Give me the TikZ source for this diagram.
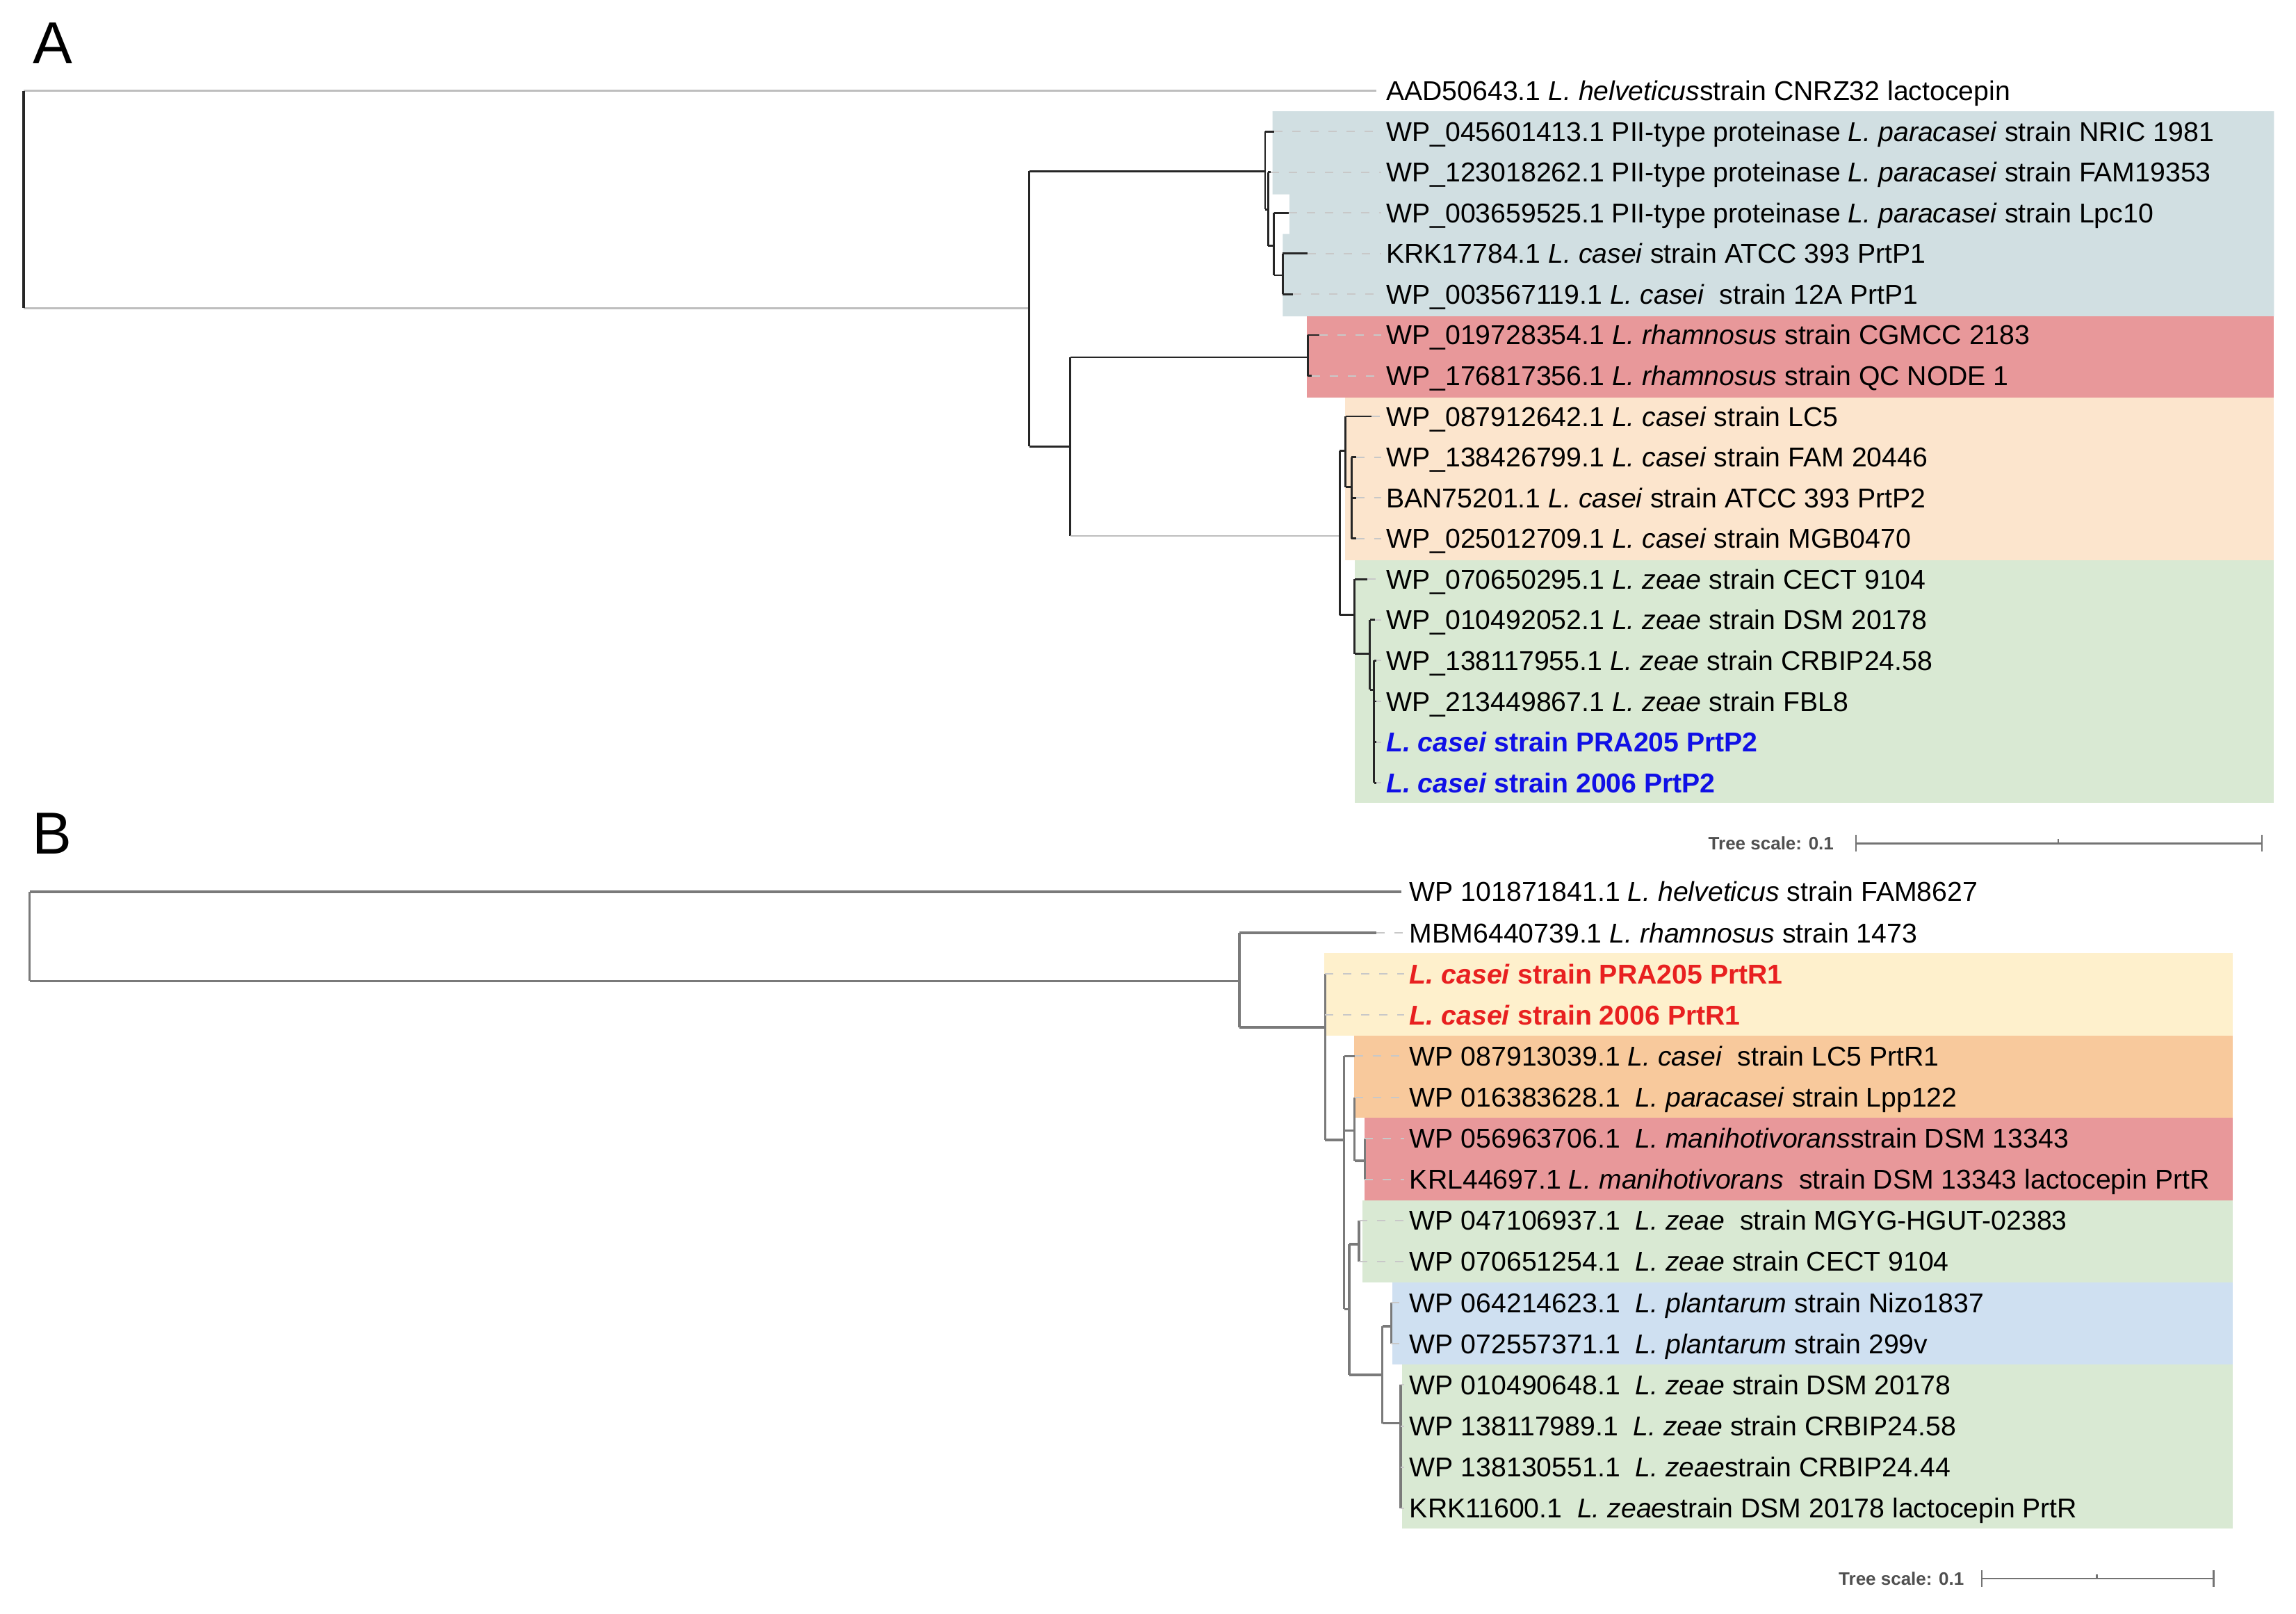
\documentclass[tikz,border=0pt]{standalone}
\usepackage{fontspec}
\setmainfont{Liberation Sans}
\usepackage{tikz}

\definecolor{cladeblue}{RGB}{209,223,226}
\definecolor{cladered}{RGB}{232,152,154}
\definecolor{cladepeach}{RGB}{252,229,205}
\definecolor{cladegreen}{RGB}{217,233,211}
\definecolor{cladeyellow}{RGB}{254,240,204}
\definecolor{cladeorange}{RGB}{248,201,156}
\definecolor{cladesky}{RGB}{207,224,241}
\definecolor{treegray}{RGB}{190,190,190}
\definecolor{bgray}{RGB}{122,122,122}
\definecolor{leadgray}{RGB}{200,200,200}
\definecolor{labblue}{RGB}{16,16,230}
\definecolor{labred}{RGB}{232,32,32}
\definecolor{scalegray}{RGB}{80,80,80}

\newcommand{\labfont}{\fontsize{9.8}{11}\selectfont}
\newcommand{\scalefont}{\fontsize{6.5}{7}\selectfont\bfseries}

\tikzset{every picture/.style={line width=0.75pt}}
\tikzset{
	brA/.style={draw=black!85, line width=0.7pt},
	brAl/.style={draw=treegray, line width=0.7pt},
	brB/.style={draw=bgray, line width=0.85pt},
	lead/.style={draw=leadgray, line width=0.5pt, dash pattern=on 3pt off 3.5pt, shorten >=1.5pt},
	lab/.style={anchor=west, inner sep=0pt, text height=7pt, text depth=0pt, font=\labfont},
	panel/.style={anchor=base west, inner sep=0pt, font=\fontsize{21.3}{24}\selectfont},
	scaletxt/.style={anchor=west, inner sep=0pt, text=scalegray, font=\scalefont},
	scalebar/.style={draw=scalegray!80, line width=0.6pt}
}

\begin{document}
\begin{tikzpicture}[x=0.5266pt,y=0.5266pt,yscale=-1,xscale=1]
	\useasboundingbox (0,0) rectangle (1568,1102);

	%Shape: Clade ranges A
	\fill[cladeblue] (869,76) -- (1553,76) -- (1553,216) -- (876,216) -- (876,159.8) -- (880.6,159.8) -- (880.6,132.7) -- (869,132.7) -- cycle;
	\fill[cladered] (892.6,216) rectangle (1553,271.6);
	\fill[cladepeach] (918.5,271.6) rectangle (1553,382.5);
	\fill[cladegreen] (925,382.5) rectangle (1553,548.5);

	%Shape: Clade ranges B
	\fill[cladeyellow] (904.3,651) rectangle (1525,707.5);
	\fill[cladeorange] (924.8,707.5) rectangle (1525,763.5);
	\fill[cladered] (932,763.5) rectangle (1525,819.6);
	\fill[cladegreen] (930.4,819.6) rectangle (1525,875.7);
	\fill[cladesky] (950.7,875.7) rectangle (1525,931.8);
	\fill[cladegreen] (957.3,931.8) rectangle (1525,1044);

	% Text Node
	\node[panel] (pA) at (22,43.5) {A};
	\node[panel] (pB) at (21.5,583) {B};

	%Tree A: internal nodes
	\coordinate (rootA) at (16,136);
	\coordinate (nA1) at (703,210.5);
	\coordinate (cA1) at (864,117);
	\coordinate (cA2) at (866,143);
	\coordinate (cA3) at (870,168);
	\coordinate (cA4) at (876,188);
	\coordinate (nA2) at (731,305);
	\coordinate (rA1) at (893,244);
	\coordinate (nA3) at (915,366);
	\coordinate (pA1) at (919,308);
	\coordinate (pA2) at (923,332.6);
	\coordinate (gA1) at (925,420);
	\coordinate (gA2) at (935.5,446.6);
	\coordinate (gA3) at (938.3,471);
	%Tree A: tips
	\coordinate (tA0) at (940,62);
	\coordinate (tA1) at (870,89.8);
	\coordinate (tA2) at (868,117.6);
	\coordinate (tA3) at (880,145.4);
	\coordinate (tA4) at (893,173.2);
	\coordinate (tA5) at (883,201);
	\coordinate (tA6) at (901,228.8);
	\coordinate (tA7) at (896,256.6);
	\coordinate (tA8) at (936.6,284.4);
	\coordinate (tA9) at (926,312.2);
	\coordinate (tA10) at (926,340);
	\coordinate (tA11) at (926,367.8);
	\coordinate (tA12) at (933.6,395.6);
	\coordinate (tA13) at (939,423.4);
	\coordinate (tA14) at (940,451.2);
	\coordinate (tA15) at (940,479);
	\coordinate (tA16) at (940,506.8);
	\coordinate (tA17) at (940,534.6);

	%Straight Lines: tree A
	\draw[brAl] (rootA |- tA0) -- (tA0);
	\draw[brAl] (rootA |- nA1) -- (nA1);
	\draw[brA, line width=1pt] (rootA |- tA0) -- (rootA |- nA1);
	\draw[brA] (nA1 |- cA1) -- (nA1 |- nA2);
	\draw[brA] (nA1 |- cA1) -- (cA1);
	\draw[brA] (nA1 |- nA2) -- (nA2);
	\draw[brA] (cA1 |- tA1) -- (cA1 |- cA2);
	\draw[brA] (cA1 |- tA1) -- (tA1);
	\draw[brA] (cA1 |- cA2) -- (cA2);
	\draw[brA] (cA2 |- tA2) -- (cA2 |- cA3);
	\draw[brA] (cA2 |- tA2) -- (tA2);
	\draw[brA] (cA2 |- cA3) -- (cA3);
	\draw[brA] (cA3 |- tA3) -- (cA3 |- cA4);
	\draw[brA] (cA3 |- tA3) -- (tA3);
	\draw[brA] (cA3 |- cA4) -- (cA4);
	\draw[brA] (cA4 |- tA4) -- (cA4 |- tA5);
	\draw[brA] (cA4 |- tA4) -- (tA4);
	\draw[brA] (cA4 |- tA5) -- (tA5);
	\draw[brA] (nA2 |- rA1) -- (nA2 |- nA3);
	\draw[brA] (nA2 |- rA1) -- (rA1);
	\draw[brAl] (nA2 |- nA3) -- (nA3);
	\draw[brA] (rA1 |- tA6) -- (rA1 |- tA7);
	\draw[brA] (rA1 |- tA6) -- (tA6);
	\draw[brA] (rA1 |- tA7) -- (tA7);
	\draw[brA] (nA3 |- pA1) -- (nA3 |- gA1);
	\draw[brA] (nA3 |- pA1) -- (pA1);
	\draw[brA] (nA3 |- gA1) -- (gA1);
	\draw[brA] (pA1 |- tA8) -- (pA1 |- pA2);
	\draw[brA] (pA1 |- tA8) -- (tA8);
	\draw[brA] (pA1 |- pA2) -- (pA2);
	\draw[brA] (pA2 |- tA9) -- (pA2 |- tA11);
	\draw[brA] (pA2 |- tA9) -- (tA9);
	\draw[brA] (pA2 |- tA10) -- (tA10);
	\draw[brA] (pA2 |- tA11) -- (tA11);
	\draw[brA] (gA1 |- tA12) -- (gA1 |- gA2);
	\draw[brA] (gA1 |- tA12) -- (tA12);
	\draw[brA] (gA1 |- gA2) -- (gA2);
	\draw[brA] (gA2 |- tA13) -- (gA2 |- gA3);
	\draw[brA] (gA2 |- tA13) -- (tA13);
	\draw[brA] (gA2 |- gA3) -- (gA3);
	\draw[brA] (gA3 |- tA14) -- (gA3 |- tA17);
	\draw[brA] (gA3 |- tA14) -- (tA14);
	\draw[brA] (gA3 |- tA15) -- (tA15);
	\draw[brA] (gA3 |- tA16) -- (tA16);
	\draw[brA] (gA3 |- tA17) -- (tA17);

	% Text Node: labels A
	\node[lab] (lA0) at (946,62) {AAD50643.1 \textit{L. helveticus}strain CNRZ32 lactocepin};
	\node[lab] (lA1) at (946,89.8) {WP\_045601413.1 PII-type proteinase \textit{L. paracasei} strain NRIC 1981};
	\node[lab] (lA2) at (946,117.6) {WP\_123018262.1 PII-type proteinase \textit{L. paracasei} strain FAM19353};
	\node[lab] (lA3) at (946,145.4) {WP\_003659525.1 PII-type proteinase \textit{L. paracasei} strain Lpc10};
	\node[lab] (lA4) at (946,173.2) {KRK17784.1 \textit{L. casei} strain ATCC 393 PrtP1};
	\node[lab] (lA5) at (946,201) {WP\_003567119.1 \textit{L. casei}\ \ strain 12A PrtP1};
	\node[lab] (lA6) at (946,228.8) {WP\_019728354.1 \textit{L. rhamnosus} strain CGMCC 2183};
	\node[lab] (lA7) at (946,256.6) {WP\_176817356.1 \textit{L. rhamnosus} strain QC NODE 1};
	\node[lab] (lA8) at (946,284.4) {WP\_087912642.1 \textit{L. casei} strain LC5};
	\node[lab] (lA9) at (946,312.2) {WP\_138426799.1 \textit{L. casei} strain FAM 20446};
	\node[lab] (lA10) at (946,340) {BAN75201.1 \textit{L. casei} strain ATCC 393 PrtP2};
	\node[lab] (lA11) at (946,367.8) {WP\_025012709.1 \textit{L. casei} strain MGB0470};
	\node[lab] (lA12) at (946,395.6) {WP\_070650295.1 \textit{L. zeae} strain CECT 9104};
	\node[lab] (lA13) at (946,423.4) {WP\_010492052.1 \textit{L. zeae} strain DSM 20178};
	\node[lab] (lA14) at (946,451.2) {WP\_138117955.1 \textit{L. zeae} strain CRBIP24.58};
	\node[lab] (lA15) at (946,479) {WP\_213449867.1 \textit{L. zeae} strain FBL8};
	\node[lab, text=labblue, font=\labfont\bfseries] (lA16) at (946,506.8) {\textit{L. casei} strain PRA205 PrtP2};
	\node[lab, text=labblue, font=\labfont\bfseries] (lA17) at (946,534.6) {\textit{L. casei} strain 2006 PrtP2};

	%Dashed Lines: leaders A
	\draw[lead] (tA1) -- (lA1);
	\draw[lead] (tA2) -- (lA2);
	\draw[lead] (tA3) -- (lA3);
	\draw[lead] (tA4) -- (lA4);
	\draw[lead] (tA5) -- (lA5);
	\draw[lead] (tA6) -- (lA6);
	\draw[lead] (tA7) -- (lA7);
	\draw[lead] (tA8) -- (lA8);
	\draw[lead] (tA9) -- (lA9);
	\draw[lead] (tA10) -- (lA10);
	\draw[lead] (tA11) -- (lA11);
	\draw[lead] (tA12) -- (lA12);
	\draw[lead] (tA13) -- (lA13);
	\draw[lead] (tA14) -- (lA14);
	\draw[lead] (tA15) -- (lA15);
	\draw[lead] (tA16) -- (lA16);
	\draw[lead] (tA17) -- (lA17);

	%Tree B: internal nodes
	\coordinate (rootB) at (20.3,640);
	\coordinate (mB1) at (846.5,670);
	\coordinate (mB2) at (905,701.7);
	\coordinate (mB3) at (918,778.5);
	\coordinate (mB4) at (925,772);
	\coordinate (mB5) at (921.5,894);
	\coordinate (mB6) at (932,792.8);
	\coordinate (mB7) at (928,849.7);
	\coordinate (mB8) at (944,939);
	\coordinate (mB9) at (950,905.8);
	\coordinate (mB10) at (956.5,972);
	%Tree B: tips
	\coordinate (tB0) at (957,609);
	\coordinate (tB1) at (940,637.1);
	\coordinate (tB2) at (905,665.1);
	\coordinate (tB3) at (905,693.2);
	\coordinate (tB4) at (925,721.3);
	\coordinate (tB5) at (925,749.4);
	\coordinate (tB6) at (932,777.4);
	\coordinate (tB7) at (932,805.5);
	\coordinate (tB8) at (928,833.6);
	\coordinate (tB9) at (928,861.6);
	\coordinate (tB10) at (950,889.7);
	\coordinate (tB11) at (950,917.8);
	\coordinate (tB12) at (956.5,945.8);
	\coordinate (tB13) at (956.5,973.9);
	\coordinate (tB14) at (956.5,1002);
	\coordinate (tB15) at (956.5,1030.1);

	%Straight Lines: tree B
	\draw[brB] (rootB |- tB0) -- (rootB |- mB1);
	\draw[brB] (rootB |- tB0) -- (tB0);
	\draw[brB] (rootB |- mB1) -- (mB1);
	\draw[brB] (mB1 |- tB1) -- (mB1 |- mB2);
	\draw[brB] (mB1 |- tB1) -- (tB1);
	\draw[brB] (mB1 |- mB2) -- (mB2);
	\draw[brB] (mB2 |- tB2) -- (mB2 |- mB3);
	\draw[brB] (mB2 |- mB3) -- (mB3);
	\draw[brB] (mB3 |- tB4) -- (mB3 |- mB5);
	\draw[brB] (mB3 |- tB4) -- (tB4);
	\draw[brB] (mB3 |- mB4) -- (mB4);
	\draw[brB] (mB3 |- mB5) -- (mB5);
	\draw[brB] (mB4 |- tB5) -- (mB4 |- mB6);
	\draw[brB] (mB4 |- mB6) -- (mB6);
	\draw[brB] (mB6 |- tB6) -- (mB6 |- tB7);
	\draw[brB] (mB5 |- mB7) -- (mB5 |- mB8);
	\draw[brB] (mB5 |- mB7) -- (mB7);
	\draw[brB] (mB5 |- mB8) -- (mB8);
	\draw[brB] (mB7 |- tB8) -- (mB7 |- tB9);
	\draw[brB] (mB8 |- mB9) -- (mB8 |- mB10);
	\draw[brB] (mB8 |- mB9) -- (mB9);
	\draw[brB] (mB8 |- mB10) -- (mB10);
	\draw[brB] (mB9 |- tB10) -- (mB9 |- tB11);
	\draw[brB] (mB10 |- tB12) -- (mB10 |- tB15);

	% Text Node: labels B
	\node[lab] (lB0) at (962,609) {WP 101871841.1 \textit{L. helveticus} strain FAM8627};
	\node[lab] (lB1) at (962,637.1) {MBM6440739.1 \textit{L. rhamnosus} strain 1473};
	\node[lab, text=labred, font=\labfont\bfseries] (lB2) at (962,665.1) {\textit{L. casei} strain PRA205 PrtR1};
	\node[lab, text=labred, font=\labfont\bfseries] (lB3) at (962,693.2) {\textit{L. casei} strain 2006 PrtR1};
	\node[lab] (lB4) at (962,721.3) {WP 087913039.1 \textit{L. casei}\ \ strain LC5 PrtR1};
	\node[lab] (lB5) at (962,749.4) {WP 016383628.1\ \ \textit{L. paracasei} strain Lpp122};
	\node[lab] (lB6) at (962,777.4) {WP 056963706.1\ \ \textit{L. manihotivorans}strain DSM 13343};
	\node[lab] (lB7) at (962,805.5) {KRL44697.1 \textit{L. manihotivorans}\ \ strain DSM 13343 lactocepin PrtR};
	\node[lab] (lB8) at (962,833.6) {WP 047106937.1\ \ \textit{L. zeae}\ \ strain MGYG-HGUT-02383};
	\node[lab] (lB9) at (962,861.6) {WP 070651254.1\ \ \textit{L. zeae} strain CECT 9104};
	\node[lab] (lB10) at (962,889.7) {WP 064214623.1\ \ \textit{L. plantarum} strain Nizo1837};
	\node[lab] (lB11) at (962,917.8) {WP 072557371.1\ \ \textit{L. plantarum} strain 299v};
	\node[lab] (lB12) at (962,945.8) {WP 010490648.1\ \ \textit{L. zeae} strain DSM 20178};
	\node[lab] (lB13) at (962,973.9) {WP 138117989.1\ \ \textit{L. zeae} strain CRBIP24.58};
	\node[lab] (lB14) at (962,1002) {WP 138130551.1\ \ \textit{L. zeae}strain CRBIP24.44};
	\node[lab] (lB15) at (962,1030.1) {KRK11600.1\ \ \textit{L. zeae}strain DSM 20178 lactocepin PrtR};

	%Dashed Lines: leaders B
	\draw[lead] (tB1) -- (lB1);
	\draw[lead] (tB2) -- (lB2);
	\draw[lead] (tB3) -- (lB3);
	\draw[lead] (tB4) -- (lB4);
	\draw[lead] (tB5) -- (lB5);
	\draw[lead] (tB6) -- (lB6);
	\draw[lead] (tB7) -- (lB7);
	\draw[lead] (tB8) -- (lB8);
	\draw[lead] (tB9) -- (lB9);
	\draw[lead] (tB10) -- (lB10);
	\draw[lead] (tB11) -- (lB11);
	\draw[lead] (tB12) -- (lB12);
	\draw[lead] (tB13) -- (lB13);
	\draw[lead] (tB14) -- (lB14);
	\draw[lead] (tB15) -- (lB15);

	%Scale bar A
	\node[scaletxt] (sA) at (1166,576) {Tree scale: 0.1};
	\coordinate (sA1) at (1267.5,576);
	\coordinate (sA2) at (1544.7,576);
	\coordinate (sAm) at (1405.6,576);
	\draw[scalebar] (sA1) -- (sA2);
	\draw[scalebar] ([yshift=-3]sA1) -- ([yshift=3]sA1);
	\draw[scalebar] ([yshift=-3]sA2) -- ([yshift=3]sA2);
	\draw[scalebar] (sAm) -- ([yshift=-1.5]sAm);

	%Scale bar B
	\node[scaletxt] (sB) at (1255,1078) {Tree scale: 0.1};
	\coordinate (sB1) at (1353.4,1078);
	\coordinate (sB2) at (1511.8,1078);
	\coordinate (sBm) at (1432,1078);
	\draw[scalebar] (sB1) -- (sB2);
	\draw[scalebar] ([yshift=-3]sB1) -- ([yshift=3]sB1);
	\draw[scalebar] ([yshift=-3]sB2) -- ([yshift=3]sB2);
	\draw[scalebar] (sBm) -- ([yshift=-1.5]sBm);

\end{tikzpicture}
\end{document}
